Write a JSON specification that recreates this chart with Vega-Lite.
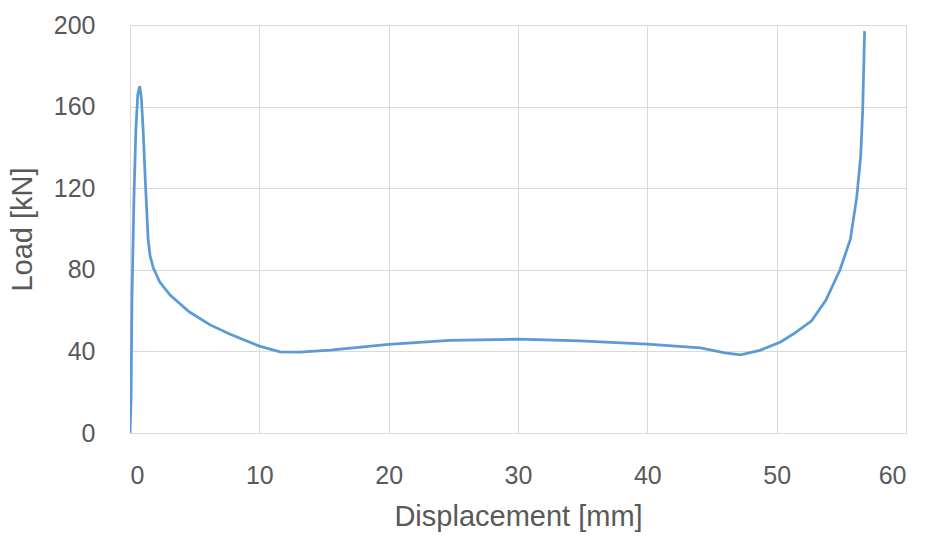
{
  "$schema": "https://vega.github.io/schema/vega-lite/v6.json",
  "width": 776,
  "height": 408,
  "autosize": "none",
  "padding": {"left": 130, "top": 25, "right": 20, "bottom": 106},
  "background": "white",
  "config": {
    "view": {"stroke": null}
  },
  "data": {
    "values": [
      {"i": 0, "d": 0, "load": 0},
      {"i": 1, "d": 0.08, "load": 16},
      {"i": 2, "d": 0.15, "load": 65},
      {"i": 3, "d": 0.3, "load": 114},
      {"i": 4, "d": 0.45, "load": 148},
      {"i": 5, "d": 0.6, "load": 166},
      {"i": 6, "d": 0.75, "load": 170},
      {"i": 7, "d": 0.88, "load": 164},
      {"i": 8, "d": 1.02, "load": 148},
      {"i": 9, "d": 1.18, "load": 124},
      {"i": 10, "d": 1.4, "load": 95},
      {"i": 11, "d": 1.55, "load": 87},
      {"i": 12, "d": 1.8, "load": 81},
      {"i": 13, "d": 2.3, "load": 74},
      {"i": 14, "d": 3.1, "load": 67.6},
      {"i": 15, "d": 4.6, "load": 59.3},
      {"i": 16, "d": 6.2, "load": 53},
      {"i": 17, "d": 7.7, "load": 48.5},
      {"i": 18, "d": 10.0, "load": 42.6},
      {"i": 19, "d": 11.6, "load": 39.8},
      {"i": 20, "d": 13.1, "load": 39.6},
      {"i": 21, "d": 15.5, "load": 40.6},
      {"i": 22, "d": 20.0, "load": 43.4},
      {"i": 23, "d": 24.7, "load": 45.4},
      {"i": 24, "d": 30.0, "load": 46},
      {"i": 25, "d": 34.8, "load": 45.2},
      {"i": 26, "d": 40.0, "load": 43.6},
      {"i": 27, "d": 44.1, "load": 41.7},
      {"i": 28, "d": 46.0, "load": 39.3},
      {"i": 29, "d": 47.2, "load": 38.3},
      {"i": 30, "d": 48.7, "load": 40.5},
      {"i": 31, "d": 50.3, "load": 44.6},
      {"i": 32, "d": 51.4, "load": 49},
      {"i": 33, "d": 52.7, "load": 55},
      {"i": 34, "d": 53.8, "load": 65},
      {"i": 35, "d": 54.9, "load": 80},
      {"i": 36, "d": 55.7, "load": 95},
      {"i": 37, "d": 56.2, "load": 116},
      {"i": 38, "d": 56.5, "load": 136},
      {"i": 39, "d": 56.65, "load": 158},
      {"i": 40, "d": 56.8, "load": 197}
    ]
  },
  "mark": {"type": "line", "color": "#5b9bd5", "strokeWidth": 2.75, "interpolate": "linear", "clip": true},
  "encoding": {
    "order": {"field": "i", "type": "quantitative"},
    "x": {
      "field": "d",
      "type": "quantitative",
      "scale": {"domain": [0, 60], "nice": false, "zero": false},
      "axis": {
        "title": "Displacement [mm]",
        "values": [0, 10, 20, 30, 40, 50, 60],
        "ticks": false,
        "domainColor": "#d9d9d9",
        "gridColor": "#d9d9d9",
        "labelColor": "#595959",
        "labelFont": "Liberation Sans",
        "labelFontSize": 25,
        "labelPadding": 30,
        "titleColor": "#595959",
        "titleFont": "Liberation Sans",
        "titleFontSize": 29,
        "titleFontWeight": "normal",
        "titlePadding": 14
      }
    },
    "y": {
      "field": "load",
      "type": "quantitative",
      "scale": {"domain": [0, 200], "nice": false},
      "axis": {
        "title": "Load [kN]",
        "values": [0, 40, 80, 120, 160, 200],
        "ticks": false,
        "domainColor": "#d9d9d9",
        "gridColor": "#d9d9d9",
        "labelColor": "#595959",
        "labelFont": "Liberation Sans",
        "labelFontSize": 25,
        "labelPadding": 35,
        "titleColor": "#595959",
        "titleFont": "Liberation Sans",
        "titleFontSize": 29,
        "titleFontWeight": "normal",
        "titlePadding": 16
      }
    }
  }
}
